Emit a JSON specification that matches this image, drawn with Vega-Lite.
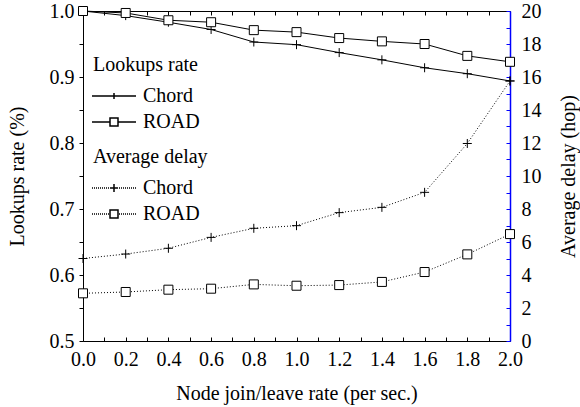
{
  "$schema": "https://vega.github.io/schema/vega-lite/v6.json",
  "width": 427,
  "height": 330,
  "autosize": {"type": "none"},
  "padding": {"left": 83, "top": 11, "right": 70, "bottom": 66},
  "background": "white",
  "config": {
    "view": {"stroke": null},
    "font": "DejaVu Serif",
    "axis": {
      "labelFont": "Times New Roman", "titleFont": "Times New Roman",
      "labelFontSize": 20, "titleFontSize": 20, "titleFontWeight": "normal",
      "labelColor": "black", "titleColor": "black", "domainColor": "black", "tickColor": "black",
      "grid": false, "labelOverlap": false, "labelFlush": false
    },
    "legend": {
      "labelFont": "Times New Roman", "titleFont": "Times New Roman",
      "labelFontSize": 20, "titleFontSize": 20, "titleFontWeight": "normal",
      "labelColor": "black", "titleColor": "black"
    }
  },
  "datasets": {
    "lookups": [
      {"x": 0.0, "series": "Chord", "rate": 1.0},
      {"x": 0.2, "series": "Chord", "rate": 0.993},
      {"x": 0.4, "series": "Chord", "rate": 0.983},
      {"x": 0.6, "series": "Chord", "rate": 0.972},
      {"x": 0.8, "series": "Chord", "rate": 0.953},
      {"x": 1.0, "series": "Chord", "rate": 0.949},
      {"x": 1.2, "series": "Chord", "rate": 0.937},
      {"x": 1.4, "series": "Chord", "rate": 0.926},
      {"x": 1.6, "series": "Chord", "rate": 0.914},
      {"x": 1.8, "series": "Chord", "rate": 0.905},
      {"x": 2.0, "series": "Chord", "rate": 0.894},
      {"x": 0.0, "series": "ROAD", "rate": 1.0},
      {"x": 0.2, "series": "ROAD", "rate": 0.997},
      {"x": 0.4, "series": "ROAD", "rate": 0.986},
      {"x": 0.6, "series": "ROAD", "rate": 0.983},
      {"x": 0.8, "series": "ROAD", "rate": 0.971},
      {"x": 1.0, "series": "ROAD", "rate": 0.968},
      {"x": 1.2, "series": "ROAD", "rate": 0.959},
      {"x": 1.4, "series": "ROAD", "rate": 0.954},
      {"x": 1.6, "series": "ROAD", "rate": 0.950},
      {"x": 1.8, "series": "ROAD", "rate": 0.932},
      {"x": 2.0, "series": "ROAD", "rate": 0.923}
    ],
    "delay": [
      {"x": 0.0, "series": "Chord", "hop": 5.0},
      {"x": 0.2, "series": "Chord", "hop": 5.27},
      {"x": 0.4, "series": "Chord", "hop": 5.62},
      {"x": 0.6, "series": "Chord", "hop": 6.28},
      {"x": 0.8, "series": "Chord", "hop": 6.83},
      {"x": 1.0, "series": "Chord", "hop": 6.99},
      {"x": 1.2, "series": "Chord", "hop": 7.78},
      {"x": 1.4, "series": "Chord", "hop": 8.1},
      {"x": 1.6, "series": "Chord", "hop": 9.01},
      {"x": 1.8, "series": "Chord", "hop": 11.97},
      {"x": 2.0, "series": "Chord", "hop": 15.76},
      {"x": 0.0, "series": "ROAD", "hop": 2.89},
      {"x": 0.2, "series": "ROAD", "hop": 2.97},
      {"x": 0.4, "series": "ROAD", "hop": 3.11},
      {"x": 0.6, "series": "ROAD", "hop": 3.17},
      {"x": 0.8, "series": "ROAD", "hop": 3.43},
      {"x": 1.0, "series": "ROAD", "hop": 3.35},
      {"x": 1.2, "series": "ROAD", "hop": 3.39},
      {"x": 1.4, "series": "ROAD", "hop": 3.58},
      {"x": 1.6, "series": "ROAD", "hop": 4.18},
      {"x": 1.8, "series": "ROAD", "hop": 5.25},
      {"x": 2.0, "series": "ROAD", "hop": 6.48}
    ]
  },
  "layer": [
    {
      "data": {"name": "lookups"},
      "encoding": {
        "x": {
          "field": "x", "type": "quantitative",
          "scale": {"domain": [0, 2], "nice": false},
          "axis": {
            "orient": "bottom",
            "values": [0, 0.1, 0.2, 0.3, 0.4, 0.5, 0.6, 0.7, 0.8, 0.9, 1.0, 1.1, 1.2, 1.3, 1.4, 1.5, 1.6, 1.7, 1.8, 1.9, 2.0],
            "labelExpr": "round(datum.value*10) % 2 == 0 ? format(datum.value, '.1f') : ''",
            "tickSize": -4, "labelPadding": 12,
            "title": "Node join/leave rate (per sec.)", "titlePadding": 14
          }
        },
        "y": {
          "field": "rate", "type": "quantitative",
          "scale": {"domain": [0.5, 1.0], "nice": false, "zero": false},
          "axis": {
            "orient": "left",
            "values": [0.5, 0.55, 0.6, 0.65, 0.7, 0.75, 0.8, 0.85, 0.9, 0.95, 1.0],
            "labelExpr": "round(datum.value*100) % 10 == 0 ? format(datum.value, '.1f') : ''",
            "tickSize": 4, "labelPadding": 5,
            "title": "Lookups rate (%)", "titlePadding": 22
          }
        }
      },
      "layer": [
        {
          "mark": {"type": "line", "color": "black", "strokeWidth": 1},
          "encoding": {"detail": {"field": "series"}}
        },
        {
          "transform": [{"filter": "datum.series == 'Chord'"}],
          "mark": {"type": "point", "shape": "M-1,0H1M0,-1V1", "filled": false, "stroke": "black", "strokeWidth": 1, "opacity": 1, "size": 81}
        },
        {
          "transform": [{"filter": "datum.series == 'ROAD'"}],
          "mark": {"type": "point", "shape": "square", "filled": true, "fill": "white", "stroke": "black", "strokeWidth": 1, "opacity": 1, "size": 81}
        },
        {
          "transform": [{"filter": "datum.x < 0"}],
          "mark": {"type": "point", "filled": true, "fill": "white", "stroke": "black", "strokeWidth": 1, "opacity": 1, "size": 64},
          "encoding": {
            "shape": {
              "field": "series", "type": "nominal",
              "scale": {"domain": ["Chord", "ROAD"], "range": ["M-5.5,0H5.5M0,-0.75V0.75", "M-5.5,0H-1M1,0H5.5M-1,-1H1V1H-1Z"]},
              "legend": {
                "title": "Lookups rate",
                "orient": "none", "legendX": 10, "legendY": 44,
                "padding": 0, "titlePadding": 11, "rowPadding": 6,
                "symbolSize": 64, "symbolOffset": 11, "labelOffset": 19
              }
            }
          }
        }
      ]
    },
    {
      "data": {"name": "delay"},
      "encoding": {
        "x": {
          "field": "x", "type": "quantitative",
          "scale": {"domain": [0, 2], "nice": false},
          "axis": {
            "orient": "top",
            "values": [0, 0.1, 0.2, 0.3, 0.4, 0.5, 0.6, 0.7, 0.8, 0.9, 1.0, 1.1, 1.2, 1.3, 1.4, 1.5, 1.6, 1.7, 1.8, 1.9, 2.0],
            "labels": false, "tickSize": -4, "title": null
          }
        },
        "y": {
          "field": "hop", "type": "quantitative",
          "scale": {"domain": [0, 20], "nice": false},
          "axis": {
            "orient": "right",
            "values": [0, 1, 2, 3, 4, 5, 6, 7, 8, 9, 10, 11, 12, 13, 14, 15, 16, 17, 18, 19, 20],
            "labelExpr": "datum.value % 2 == 0 ? format(datum.value, 'd') : ''",
            "tickSize": -4, "labelPadding": 15,
            "domainColor": "blue", "tickColor": "blue", "domainWidth": 1.5,
            "title": "Average delay (hop)", "titleAngle": -90, "titlePadding": 37
          }
        }
      },
      "layer": [
        {
          "mark": {"type": "line", "color": "black", "strokeWidth": 1, "strokeDash": [1, 2]},
          "encoding": {"detail": {"field": "series"}}
        },
        {
          "transform": [{"filter": "datum.series == 'Chord'"}],
          "mark": {"type": "point", "shape": "M-1,0H1M0,-1V1", "filled": false, "stroke": "black", "strokeWidth": 1, "opacity": 1, "size": 81}
        },
        {
          "transform": [{"filter": "datum.series == 'ROAD'"}],
          "mark": {"type": "point", "shape": "square", "filled": true, "fill": "white", "stroke": "black", "strokeWidth": 1, "opacity": 1, "size": 81}
        },
        {
          "transform": [{"filter": "datum.x < 0"}],
          "mark": {"type": "point", "filled": true, "fill": "white", "stroke": "black", "strokeWidth": 1, "opacity": 1, "size": 64},
          "encoding": {
            "shape": {
              "field": "series", "type": "nominal",
              "scale": {"domain": ["Chord", "ROAD"], "range": [
                "M-5.5,0h0.25M-5,0h0.25M-4.5,0h0.25M-4,0h0.25M-3.5,0h0.25M-3,0h0.25M-2.5,0h0.25M-2,0h0.25M-1.5,0h0.25M1.25,0h0.25M1.75,0h0.25M2.25,0h0.25M2.75,0h0.25M3.25,0h0.25M3.75,0h0.25M4.25,0h0.25M4.75,0h0.25M5.25,0h0.25M-1,0H1M0,-1V1",
                "M-5.5,0h0.25M-5,0h0.25M-4.5,0h0.25M-4,0h0.25M-3.5,0h0.25M-3,0h0.25M-2.5,0h0.25M-2,0h0.25M-1.5,0h0.25M1.25,0h0.25M1.75,0h0.25M2.25,0h0.25M2.75,0h0.25M3.25,0h0.25M3.75,0h0.25M4.25,0h0.25M4.75,0h0.25M5.25,0h0.25M-1,-1H1V1H-1Z"
              ]},
              "legend": {
                "title": "Average delay",
                "orient": "none", "legendX": 10, "legendY": 136,
                "padding": 0, "titlePadding": 11, "rowPadding": 6,
                "symbolSize": 64, "symbolOffset": 11, "labelOffset": 19
              }
            }
          }
        }
      ]
    }
  ],
  "resolve": {
    "scale": {"y": "independent", "shape": "independent"},
    "axis": {"x": "independent", "y": "independent"},
    "legend": {"shape": "independent"}
  }
}
